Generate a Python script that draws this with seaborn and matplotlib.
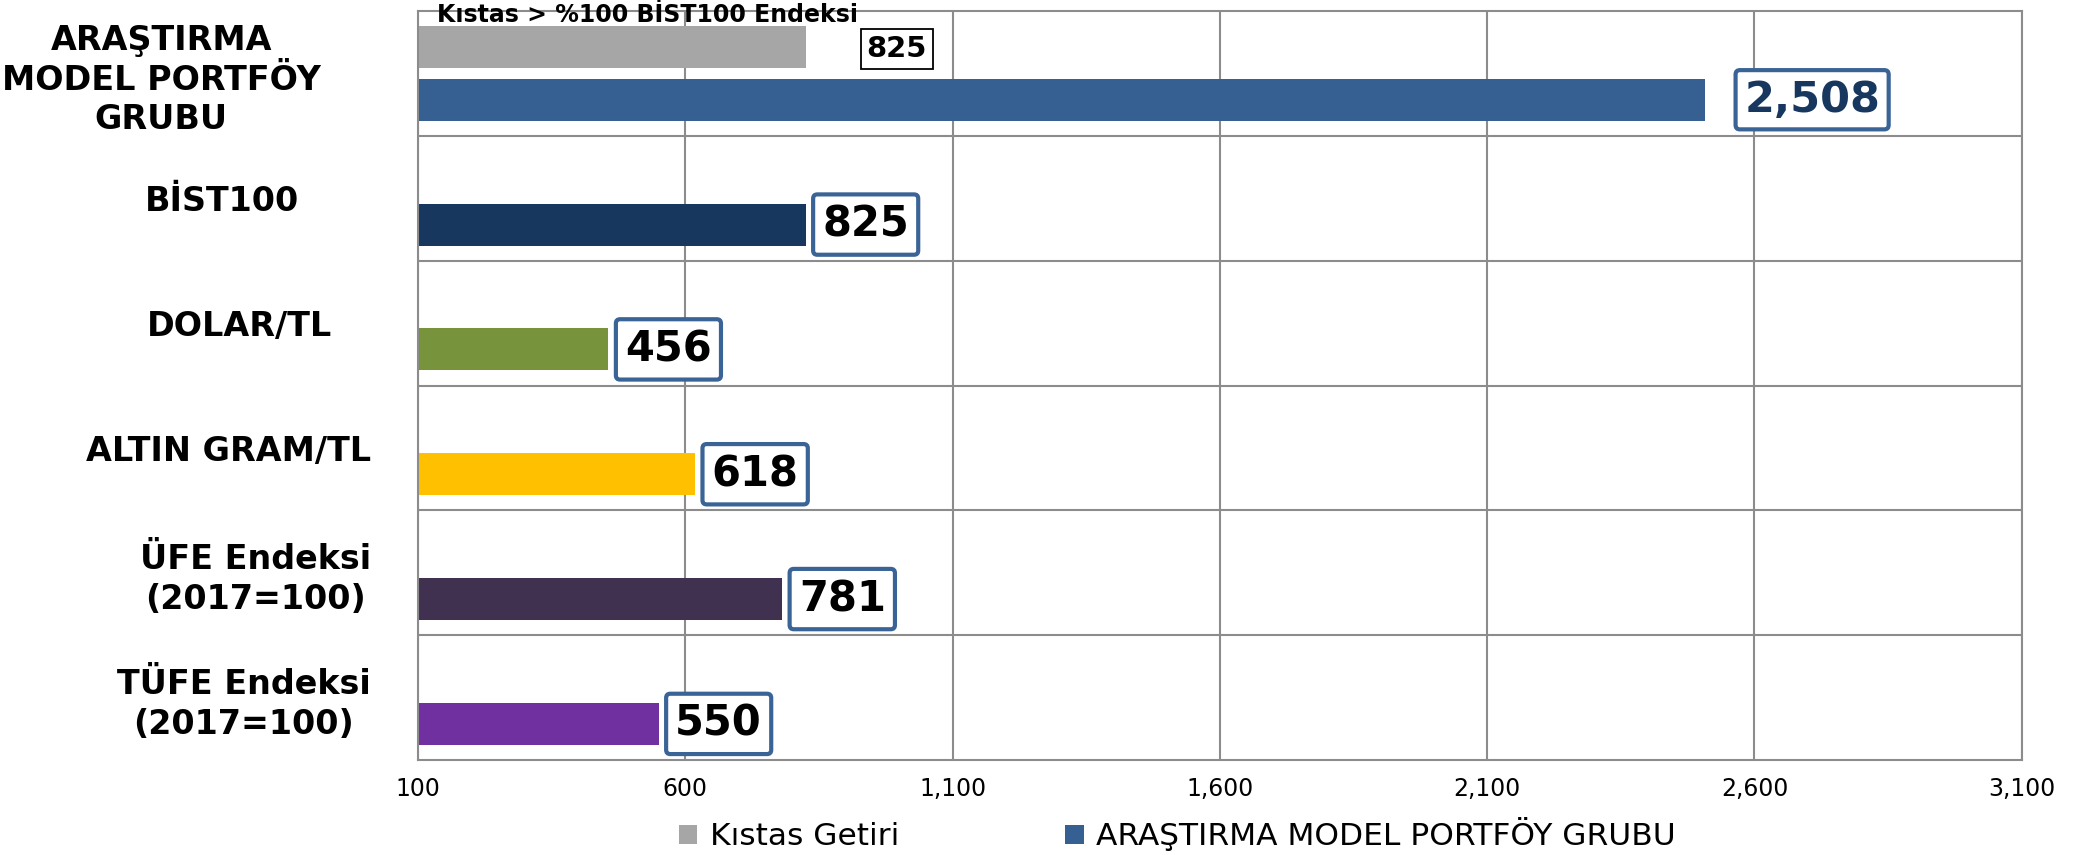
import matplotlib
matplotlib.use('Agg')
import matplotlib.pyplot as plt
import matplotlib.transforms as mtransforms
import seaborn as sns
import pandas as pd
import numpy as np
from matplotlib.ticker import FuncFormatter
from matplotlib.patches import Patch

# Veriler
kategoriler = ['ARAŞTIRMA\nMODEL PORTFÖY\nGRUBU', 'BİST100', 'DOLAR/TL',
               'ALTIN GRAM/TL', 'ÜFE Endeksi\n(2017=100)', 'TÜFE Endeksi\n(2017=100)']
model_degerleri = [2508, 825, 456, 618, 781, 550]
kistas_degerleri = [825]  # sadece ilk kategori icin
seri_adlari = ['Kıstas Getiri', 'ARAŞTIRMA MODEL PORTFÖY GRUBU']
x_tickleri = [100, 600, 1100, 1600, 2100, 2600, 3100]
ust_baslik = 'Kıstas > %100 BİST100 Endeksi'

# Renkler
gri = '#A6A6A6'
mavi = '#376092'
bar_renkleri = ['#376092', '#17375E', '#77933C', '#FFC000', '#403151', '#7030A0']
grid_renk = '#8C8C8C'
kutu_renk = '#3A6396'

# etiketlerin sag kenar kaymalari (punto)
etiket_kayma = [-36, -52, -28, 0, 0, 0]

satirlar = []
for k, v in zip(kategoriler[:1], kistas_degerleri):
    satirlar.append({'kategori': k, 'deger': v, 'seri': seri_adlari[0]})
for k, v in zip(kategoriler, model_degerleri):
    satirlar.append({'kategori': k, 'deger': v, 'seri': seri_adlari[1]})
df = pd.DataFrame(satirlar)

sns.set_style('white')
plt.rcParams['font.family'] = ['DejaVu Sans']
plt.rcParams['text.color'] = 'black'
plt.rcParams['xtick.color'] = 'black'
plt.rcParams['ytick.color'] = 'black'

fig = plt.figure(figsize=(20.8, 8.55), dpi=100)
ax = fig.add_axes([0.201, 0.111, 0.771, 0.876])

sns.barplot(data=df, y='kategori', x='deger', hue='seri', order=kategoriler,
            hue_order=seri_adlari, palette=[gri, mavi], orient='h',
            width=0.84, gap=0.2, errorbar=None, legend=False, ax=ax,
            edgecolor='none', linewidth=0)

# model serisinin cubuklarini tek tek renklendir
model_bars = ax.containers[1]
for bar, renk in zip(model_bars, bar_renkleri):
    bar.set_facecolor(renk)

ax.set_xlim(x_tickleri[0], x_tickleri[-1])
ax.set_xticks(x_tickleri)
ax.xaxis.set_major_formatter(FuncFormatter(lambda v, p: f'{int(v):,}'))
ax.set_xlabel('')
ax.set_ylabel('')

# grid
ax.set_axisbelow(True)
ax.xaxis.grid(True, color=grid_renk, linewidth=1.5)
ax.set_yticks(np.arange(0.5, len(kategoriler) - 1, 1), minor=True)
ax.yaxis.grid(True, which='minor', color=grid_renk, linewidth=1.5)
ax.yaxis.grid(False, which='major')
for s in ax.spines.values():
    s.set_color(grid_renk)
    s.set_linewidth(1.5)

ax.tick_params(axis='x', length=0, pad=12, labelsize=17)
ax.tick_params(axis='y', which='both', length=0, pad=34, labelsize=24)
for t, dx in zip(ax.get_yticklabels(), etiket_kayma):
    t.set_fontweight('bold')
    t.set_multialignment('center')
    t.set_linespacing(1.25)
    t.set_transform(t.get_transform() + mtransforms.ScaledTranslation(dx / 72, 0, fig.dpi_scale_trans))

# deger etiketleri
for i, (bar, v) in enumerate(zip(model_bars, model_degerleri)):
    yc = bar.get_y() + bar.get_height() / 2
    if i == 0:
        ax.annotate(f'{v:,}', xy=(v, yc), xytext=(28, 0), textcoords='offset points',
                    ha='left', va='center', fontsize=31, fontweight='bold', color='#17375E',
                    bbox=dict(boxstyle='round,pad=0.2,rounding_size=0.1', fc='white',
                              ec=kutu_renk, lw=3))
    else:
        ax.annotate(f'{v:,}', xy=(v, yc), xytext=(12, 0), textcoords='offset points',
                    ha='left', va='center', fontsize=30, fontweight='bold', color='black',
                    bbox=dict(boxstyle='round,pad=0.22,rounding_size=0.1', fc='white',
                              ec=kutu_renk, lw=3))

for bar, v in zip(ax.containers[0], kistas_degerleri):
    yc = bar.get_y() + bar.get_height() / 2
    ax.annotate(f'{v:,}', xy=(v, yc), xytext=(44, -1), textcoords='offset points',
                ha='left', va='center', fontsize=21, fontweight='bold', color='black',
                bbox=dict(boxstyle='square,pad=0.2', fc='white', ec='black', lw=1.3))

ax.text(0.012, 0.995, ust_baslik, transform=ax.transAxes, ha='left', va='center',
        fontsize=17, fontweight='bold', clip_on=False)

# lejant
handles = [Patch(facecolor=gri, edgecolor='none'), Patch(facecolor=mavi, edgecolor='none')]
fig.legend(handles, seri_adlari, loc='center', bbox_to_anchor=(0.566, 0.024), ncol=2,
           frameon=False, fontsize=22.5, handlelength=0.6, handleheight=0.6,
           handletextpad=0.4, columnspacing=5.3)

plt.savefig('out.png', dpi=100)
plt.close()
